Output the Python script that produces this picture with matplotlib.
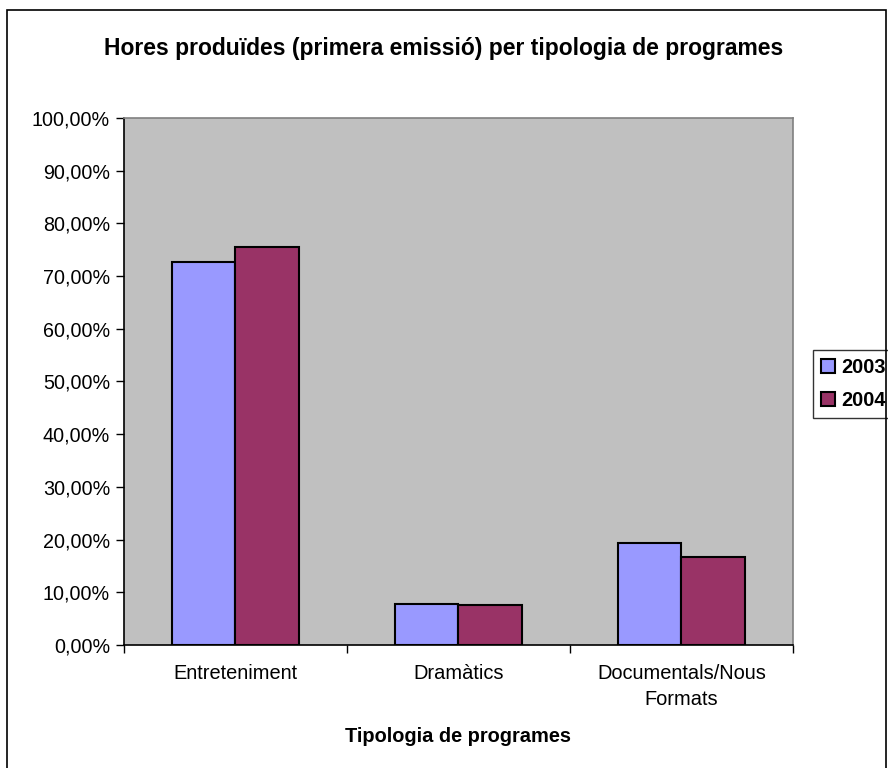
import matplotlib
matplotlib.use("Agg")
import matplotlib.pyplot as plt
import matplotlib.ticker as ticker
from matplotlib.patches import Rectangle
import numpy as np

plt.rcParams['font.family'] = ['Liberation Sans', 'DejaVu Sans']

categories = ['Entreteniment', 'Dramàtics', 'Documentals/Nous\nFormats']
years = ['2003', '2004']
vals_2003 = [72.7, 7.7, 19.4]
vals_2004 = [75.5, 7.5, 16.7]
colors = ['#9999FF', '#993366']

fig = plt.figure(figsize=(8.88, 7.68), dpi=100)
ax = fig.add_axes([0.1396, 0.1602, 0.8138 - 0.0604, 0.6862])
ax.set_facecolor('#C0C0C0')

x = np.arange(len(categories))
w = 0.2857
ax.bar(x - w / 2, vals_2003, w, color=colors[0], edgecolor='black', linewidth=1.5, label=years[0])
ax.bar(x + w / 2, vals_2004, w, color=colors[1], edgecolor='black', linewidth=1.5, label=years[1])

ax.set_xlim(-0.5, 2.5)
ax.set_ylim(0, 100)
ax.yaxis.set_major_locator(ticker.MultipleLocator(10))
ax.yaxis.set_major_formatter(ticker.FuncFormatter(lambda v, p: ('%.2f%%' % v).replace('.', ',')))
ax.set_xticks(x)
ax.set_xticklabels(categories, linespacing=1.45)
ax.set_xticks([-0.5, 0.5, 1.5, 2.5], minor=True)
ax.tick_params(axis='x', which='major', length=0, pad=14, labelsize=14.4)
ax.tick_params(axis='x', which='minor', length=6, width=1, color='black')
ax.tick_params(axis='y', length=6, width=1, labelsize=14.2, pad=4)

for s in ['left', 'bottom']:
    ax.spines[s].set_color('black')
    ax.spines[s].set_linewidth(1.2)
for s in ['top', 'right']:
    ax.spines[s].set_color('#808080')
    ax.spines[s].set_linewidth(1.2)

ax.set_xlabel('Tipologia de programes', fontsize=14.4, fontweight='bold', labelpad=13)
fig.text(0.5, 0.937, 'Hores produïdes (primera emissió) per tipologia de programes',
         ha='center', va='center', fontsize=16.5, fontweight='bold')

leg = ax.legend(loc='upper left', bbox_to_anchor=(0.9155, 0.544), bbox_transform=fig.transFigure,
                borderaxespad=0, frameon=True, fancybox=False, prop={'weight': 'bold', 'size': 14.4},
                handlelength=0.7, handleheight=0.7, handletextpad=0.3, labelspacing=0.7,
                borderpad=0.4)
leg.get_frame().set_edgecolor('black')
leg.get_frame().set_linewidth(1.0)

fig.patches.append(Rectangle((7 / 888, -0.02), (886 - 7) / 888, 0.02 + 758 / 768,
                             transform=fig.transFigure, fill=False, edgecolor='black', linewidth=1.2))

fig.savefig('out.png', dpi=100)
